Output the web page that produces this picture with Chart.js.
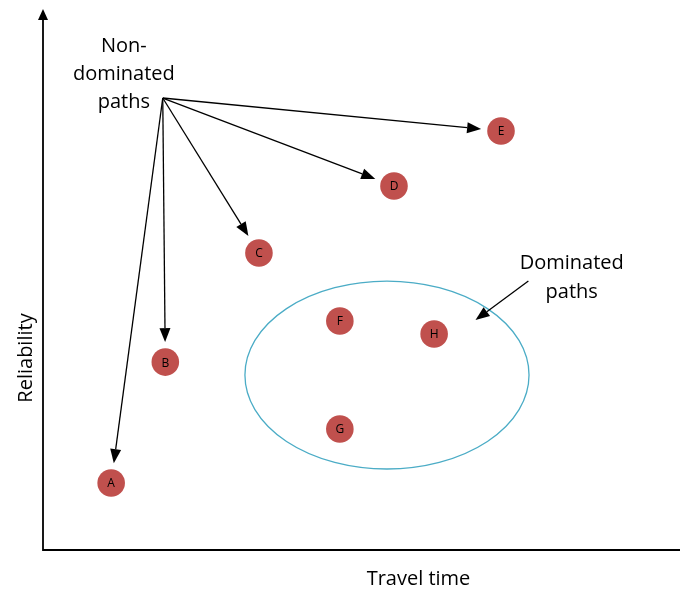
<!DOCTYPE html>
<html>
<head>
<meta charset="utf-8">
<script src="https://cdn.jsdelivr.net/npm/chart.js@4.4.1/dist/chart.umd.min.js"></script>
<style>
  body { margin: 0; background: #fff; }
  canvas { display: block; }
</style>
</head>
<body>
<canvas id="paretoChart" width="681" height="590"></canvas>
<script>
// Dữ liệu các đường đi (đơn vị tương đối 0..100)
const pathLabels = ['A', 'B', 'C', 'D', 'E', 'F', 'G', 'H'];
const travelTime = [10.7, 19.2, 33.9, 55.1, 71.9, 46.6, 46.6, 61.4];
const reliability = [12.4, 34.8, 55.0, 67.4, 77.6, 42.4, 22.4, 40.0];

// Các đường không bị trội -> có mũi tên chỉ vào
const nonDominated = ['A', 'B', 'C', 'D', 'E'];
const calloutOrigin = [18.8, 83.7];           // gốc các mũi tên
const nonDomText = ['Non-', 'dominated', 'paths'];
const nonDomTextAt = [12.7, 92.2];

// Vùng các đường bị trội (ellipse)
const dominatedCenter = [54.0, 32.4];
const dominatedRadii = [22.3, 17.4];
const domText = ['Dominated', 'paths'];
const domTextAt = [83.0, 52.0];
const domArrow = [[76.2, 49.8], [67.9, 42.6]];

const axisTitles = { x: 'Travel time', y: 'Reliability' };

const FONT = '"Open Sans", "Noto Sans", sans-serif';

function drawArrow(ctx, x1, y1, x2, y2) {
    const ang = Math.atan2(y2 - y1, x2 - x1);
    const len = 14, half = 5.5;
    const bx = x2 - len * Math.cos(ang), by = y2 - len * Math.sin(ang);
    ctx.beginPath();
    ctx.moveTo(x1, y1);
    ctx.lineTo(bx, by);
    ctx.stroke();
    ctx.beginPath();
    ctx.moveTo(x2, y2);
    ctx.lineTo(bx + half * Math.sin(ang), by - half * Math.cos(ang));
    ctx.lineTo(bx - half * Math.sin(ang), by + half * Math.cos(ang));
    ctx.closePath();
    ctx.fill();
}

const diagramPlugin = {
    id: 'diagram',
    beforeDatasetsDraw(chart) {
        const { ctx, chartArea: a, scales: { x, y } } = chart;
        ctx.save();

        // Trục toạ độ
        ctx.strokeStyle = '#000';
        ctx.fillStyle = '#000';
        ctx.lineWidth = 1.8;
        ctx.beginPath();
        ctx.moveTo(a.left, a.top + 8);
        ctx.lineTo(a.left, a.bottom);
        ctx.lineTo(a.right, a.bottom);
        ctx.stroke();
        ctx.beginPath();
        ctx.moveTo(a.left, a.top - 1);
        ctx.lineTo(a.left - 5, a.top + 10);
        ctx.lineTo(a.left + 5, a.top + 10);
        ctx.closePath();
        ctx.fill();

        // Ellipse vùng bị trội
        ctx.strokeStyle = '#4BACC6';
        ctx.lineWidth = 1.3;
        const cx = x.getPixelForValue(dominatedCenter[0]);
        const cy = y.getPixelForValue(dominatedCenter[1]);
        const rx = x.getPixelForValue(dominatedCenter[0] + dominatedRadii[0]) - cx;
        const ry = cy - y.getPixelForValue(dominatedCenter[1] + dominatedRadii[1]);
        ctx.beginPath();
        ctx.ellipse(cx, cy, rx, ry, 0, 0, Math.PI * 2);
        ctx.stroke();

        // Mũi tên tới các đường không bị trội
        ctx.strokeStyle = '#000';
        ctx.fillStyle = '#000';
        ctx.lineWidth = 1.3;
        const ox = x.getPixelForValue(calloutOrigin[0]);
        const oy = y.getPixelForValue(calloutOrigin[1]);
        nonDominated.forEach(lbl => {
            const i = pathLabels.indexOf(lbl);
            const px = x.getPixelForValue(travelTime[i]);
            const py = y.getPixelForValue(reliability[i]);
            const d = Math.hypot(px - ox, py - oy);
            const gap = 20;
            drawArrow(ctx, ox, oy, px - (px - ox) * gap / d, py - (py - oy) * gap / d);
        });
        drawArrow(ctx,
            x.getPixelForValue(domArrow[0][0]), y.getPixelForValue(domArrow[0][1]),
            x.getPixelForValue(domArrow[1][0]), y.getPixelForValue(domArrow[1][1]));

        // Chữ chú thích
        ctx.font = '20px ' + FONT;
        ctx.textAlign = 'center';
        ctx.textBaseline = 'alphabetic';
        const tx = x.getPixelForValue(nonDomTextAt[0]);
        const ty = y.getPixelForValue(nonDomTextAt[1]);
        nonDomText.forEach((t, k) => ctx.fillText(t, tx, ty + k * 28));
        const dx = x.getPixelForValue(domTextAt[0]);
        const dy = y.getPixelForValue(domTextAt[1]);
        domText.forEach((t, k) => ctx.fillText(t, dx, dy + k * 29));

        // Tiêu đề trục
        ctx.fillText(axisTitles.x, (a.left + a.right) / 2 + 57, a.bottom + 35);
        ctx.save();
        ctx.translate(32, 358);
        ctx.rotate(-Math.PI / 2);
        ctx.fillText(axisTitles.y, 0, 0);
        ctx.restore();

        ctx.restore();
    },
    afterDatasetsDraw(chart) {
        const { ctx } = chart;
        const meta = chart.getDatasetMeta(0);
        ctx.save();
        ctx.fillStyle = '#000';
        ctx.font = '12px ' + FONT;
        ctx.textAlign = 'center';
        ctx.textBaseline = 'middle';
        meta.data.forEach((pt, i) => ctx.fillText(pathLabels[i], pt.x, pt.y + 1));
        ctx.restore();
    }
};

new Chart(document.getElementById('paretoChart'), {
    type: 'scatter',
    data: {
        datasets: [{
            data: travelTime.map((t, i) => ({ x: t, y: reliability[i] })),
            backgroundColor: '#C0504D',
            borderWidth: 0,
            pointRadius: 13.8,
            pointHoverRadius: 13.8
        }]
    },
    options: {
        responsive: false,
        animation: false,
        devicePixelRatio: 1,
        layout: { autoPadding: false, padding: { left: 43, right: 1, top: 10, bottom: 40 } },
        scales: {
            x: { type: 'linear', min: 0, max: 100, display: false },
            y: { type: 'linear', min: 0, max: 100, display: false }
        },
        plugins: { legend: { display: false }, tooltip: { enabled: false } }
    },
    plugins: [diagramPlugin]
});
</script>
</body>
</html>
